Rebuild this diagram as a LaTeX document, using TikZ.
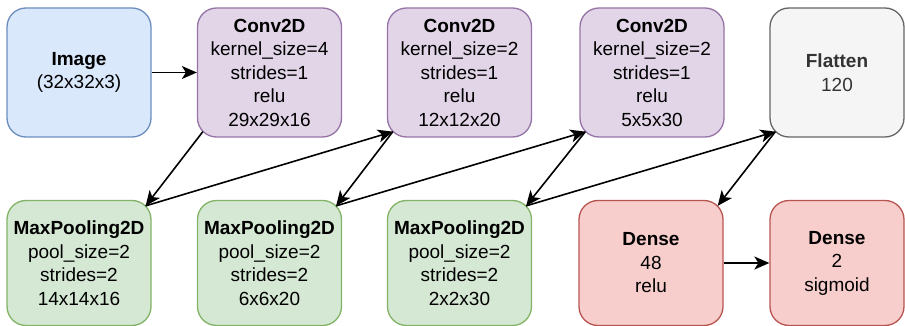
\documentclass[tikz,border=0pt]{standalone}
\usepackage{fontspec}
\setmainfont{Liberation Sans}
\usetikzlibrary{arrows.meta,calc}

\definecolor{blueFill}{HTML}{DAE8FC}\definecolor{blueLine}{HTML}{6C8EBF}
\definecolor{purpFill}{HTML}{E1D5E7}\definecolor{purpLine}{HTML}{9673A6}
\definecolor{greenFill}{HTML}{D5E8D4}\definecolor{greenLine}{HTML}{82B366}
\definecolor{redFill}{HTML}{F8CECC}\definecolor{redLine}{HTML}{B85450}
\definecolor{grayFill}{HTML}{F5F5F5}\definecolor{grayLine}{HTML}{666666}
\definecolor{grayText}{HTML}{333333}

\tikzset{
  layer/.style={rectangle, rounded corners=19pt, line width=1.3pt,
    minimum width=144pt, inner sep=0pt, align=center,
    font=\fontsize{19}{23.5}\selectfont},
  toprow/.style={layer, minimum height=129pt},
  botrow/.style={layer, minimum height=125pt},
  inputbox/.style={fill=blueFill, draw=blueLine},
  convbox/.style={fill=purpFill, draw=purpLine},
  poolbox/.style={fill=greenFill, draw=greenLine},
  densebox/.style={fill=redFill, draw=redLine},
  flatbox/.style={fill=grayFill, draw=grayLine, text=grayText},
  flow/.style={line width=1.6pt, -{Stealth[length=15pt,width=13pt,inset=4pt]}},
}

\begin{document}
\begin{tikzpicture}[x=1pt,y=-1pt]
\useasboundingbox (0,0) rectangle (905,326);

% top row
\node[toprow,inputbox] (img) at (79,72.5) {\textbf{Image}\\(32x32x3)};
\node[toprow,convbox] (c1) at (269.5,72.5)
  {\textbf{Conv2D}\\kernel\_size=4\\strides=1\\relu\\29x29x16};
\node[toprow,convbox] (c2) at (459.5,72.5)
  {\textbf{Conv2D}\\kernel\_size=2\\strides=1\\relu\\12x12x20};
\node[toprow,convbox] (c3) at (652,72.5)
  {\textbf{Conv2D}\\kernel\_size=2\\strides=1\\relu\\5x5x30};
\node[toprow,flatbox,minimum width=134pt] (fl) at (837,72.5)
  {\textbf{Flatten}\\120};

% bottom row
\node[botrow,poolbox] (p1) at (79,263)
  {\textbf{MaxPooling2D}\\pool\_size=2\\strides=2\\14x14x16};
\node[botrow,poolbox] (p2) at (269.5,263)
  {\textbf{MaxPooling2D}\\pool\_size=2\\strides=2\\6x6x20};
\node[botrow,poolbox] (p3) at (459.5,263)
  {\textbf{MaxPooling2D}\\pool\_size=2\\strides=2\\2x2x30};
\node[botrow,densebox] (d1) at (651,263) {\textbf{Dense}\\48\\relu};
\node[botrow,densebox,minimum width=134pt] (d2) at (837,263)
  {\textbf{Dense}\\2\\sigmoid};

% connectors, corner to corner
\draw[flow] (img.east) -- (c1.west);
\draw[flow] ($(c1.south west)+(6,-6)$) -- ($(p1.north east)+(-6,6)$);
\draw[flow] ($(p1.north east)+(-6,6)$) -- ($(c2.south west)+(6,-6)$);
\draw[flow] ($(c2.south west)+(6,-6)$) -- ($(p2.north east)+(-6,6)$);
\draw[flow] ($(p2.north east)+(-6,6)$) -- ($(c3.south west)+(6,-6)$);
\draw[flow] ($(c3.south west)+(6,-6)$) -- ($(p3.north east)+(-6,6)$);
\draw[flow] ($(p3.north east)+(-6,6)$) -- ($(fl.south west)+(6,-6)$);
\draw[flow] ($(fl.south west)+(6,-6)$) -- ($(d1.north east)+(-6,6)$);
\draw[flow] (d1.east) -- (d2.west);
\end{tikzpicture}
\end{document}
